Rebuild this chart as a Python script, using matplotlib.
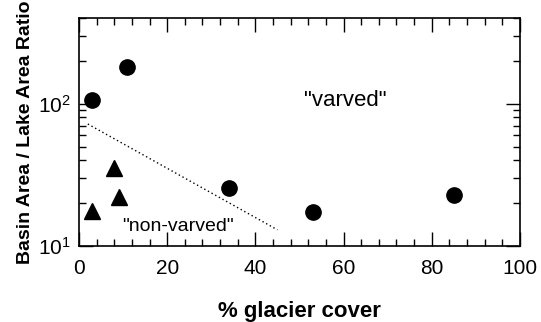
import numpy as np
import matplotlib
matplotlib.use('Agg')
import matplotlib.pyplot as plt
from matplotlib.ticker import LogLocator, MultipleLocator, NullFormatter

plt.rcParams['font.family'] = ['Liberation Sans', 'DejaVu Sans']
plt.rcParams['mathtext.default'] = 'regular'

# varved lakes (circles)
varved_cover = [3, 11, 34, 53, 85]
varved_ratio = [107, 180, 25.6, 17.4, 22.7]

# non-varved lakes (triangles)
nonvarved_cover = [3, 8, 9]
nonvarved_ratio = [17.7, 35.5, 22.1]

# dividing line
line_cover = [2, 45]
line_ratio = [72, 13]

fig = plt.figure(figsize=(5.41, 3.22), dpi=100)
ax = fig.add_axes([0.146, 0.236, 0.815, 0.708])

ax.plot(varved_cover, varved_ratio, 'o', color='black', markersize=11)
ax.plot(nonvarved_cover, nonvarved_ratio, '^', color='black', markersize=11)
ax.plot(line_cover, line_ratio, color='black', linestyle=(0, (1, 2)), linewidth=1)

ax.text(60.5, 105, '"varved"', fontsize=16, ha='center', va='center')
ax.text(22.5, 13.8, '"non-varved"', fontsize=14, ha='center', va='center')

ax.set_yscale('log')
ax.set_xlim(0, 100)
ax.set_ylim(10, 400)
ax.xaxis.set_major_locator(MultipleLocator(20))
ax.xaxis.set_minor_locator(MultipleLocator(4))
ax.yaxis.set_major_locator(LogLocator(base=10))
ax.yaxis.set_minor_locator(LogLocator(base=10, subs=np.arange(2, 10)))
ax.yaxis.set_minor_formatter(NullFormatter())

ax.tick_params(which='both', direction='in', top=True, right=True, labelsize=15, width=1)
ax.tick_params(which='major', length=10)
ax.tick_params(axis='x', which='major', pad=9)
ax.tick_params(axis='y', which='major', pad=6)
ax.tick_params(which='minor', length=5)
for s in ax.spines.values():
    s.set_linewidth(1.2)

ax.set_xlabel('% glacier cover', fontsize=16, fontweight='bold', labelpad=17)
ax.set_ylabel('Basin Area / Lake Area Ratio', fontsize=14, fontweight='bold', labelpad=3)

fig.savefig('out.png', dpi=100)
